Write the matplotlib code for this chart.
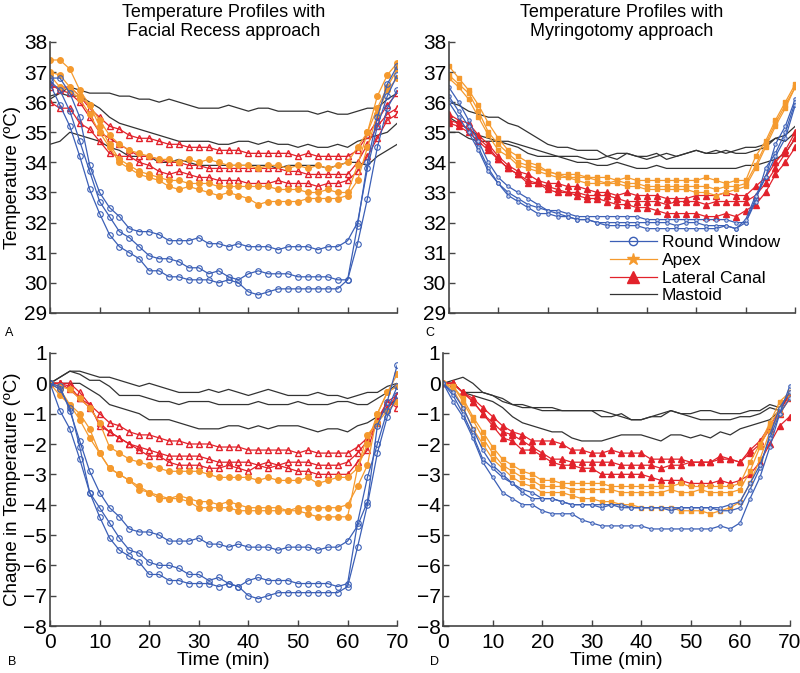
import matplotlib
matplotlib.use('Agg')
import matplotlib.pyplot as plt
from matplotlib.lines import Line2D

plt.rcParams['font.family'] = ['Liberation Sans', 'DejaVu Sans']

# time axis, every 2 min
t = list(range(0, 71, 2))

# ---- Facial recess, absolute temperature (panel A)
fr_temp_rw = [
    [36.8, 36.8, 36.3, 35.5, 33.9, 33.0, 32.5, 32.2, 31.8, 31.7, 31.7, 31.6,
     31.4, 31.4, 31.4, 31.5, 31.3, 31.3, 31.2, 31.3, 31.2, 31.2, 31.2, 31.1,
     31.2, 31.2, 31.2, 31.1, 31.2, 31.2, 31.4, 32.0, 33.8, 35.2, 36.2, 36.9],
    [36.7, 36.4, 35.7, 34.7, 33.7, 32.7, 32.2, 31.7, 31.5, 31.2, 30.9, 30.8,
     30.8, 30.7, 30.5, 30.5, 30.3, 30.4, 30.2, 30.1, 30.3, 30.4, 30.3, 30.3,
     30.3, 30.2, 30.2, 30.2, 30.2, 30.1, 30.1, 31.9, 34.0, 35.5, 36.6, 37.2],
    [36.6, 35.9, 35.2, 34.2, 33.1, 32.3, 31.6, 31.2, 31.0, 30.8, 30.4, 30.4,
     30.2, 30.2, 30.1, 30.1, 30.1, 30.0, 30.1, 30.0, 29.7, 29.6, 29.7, 29.8,
     29.8, 29.8, 29.8, 29.8, 29.8, 29.8, 30.1, 31.3, 32.8, 34.5, 35.8, 36.4],
]
fr_temp_apex = [
    [37.0, 36.9, 36.5, 36.2, 35.9, 35.4, 34.9, 34.6, 34.4, 34.3, 34.2, 34.1,
     34.1, 34.0, 34.1, 34.0, 34.1, 34.0, 33.9, 33.9, 33.9, 33.8, 33.9, 33.9,
     33.8, 33.9, 33.8, 33.9, 33.8, 33.9, 34.0, 34.5, 35.0, 35.8, 36.5, 37.1],
    [37.4, 37.4, 37.1, 36.4, 35.9, 35.2, 34.6, 34.1, 33.9, 33.7, 33.6, 33.5,
     33.4, 33.4, 33.3, 33.3, 33.3, 33.2, 33.2, 33.2, 33.2, 33.2, 33.2, 33.1,
     33.1, 33.1, 33.0, 33.0, 33.1, 33.0, 33.0, 33.9, 35.0, 36.2, 36.9, 37.3],
    [36.9, 36.5, 36.4, 36.1, 35.6, 35.0, 34.5, 34.0, 33.8, 33.6, 33.5, 33.4,
     33.2, 33.1, 33.2, 33.1, 33.0, 32.9, 33.0, 32.9, 32.8, 32.6, 32.7, 32.7,
     32.7, 32.7, 32.8, 32.8, 32.8, 32.8, 32.9, 33.4, 34.5, 35.6, 36.4, 36.8],
]
fr_temp_lc = [
    [36.5, 36.5, 36.5, 36.2, 35.8, 35.5, 35.2, 35.1, 34.9, 34.8, 34.8, 34.7,
     34.6, 34.6, 34.5, 34.5, 34.5, 34.4, 34.4, 34.4, 34.3, 34.3, 34.3, 34.3,
     34.3, 34.2, 34.3, 34.2, 34.2, 34.2, 34.2, 34.4, 34.9, 35.4, 35.9, 36.3],
    [36.6, 36.4, 36.3, 36.0, 35.5, 35.0, 34.8, 34.6, 34.4, 34.2, 34.2, 34.1,
     34.0, 34.0, 33.9, 33.9, 33.8, 33.8, 33.8, 33.8, 33.8, 33.8, 33.8, 33.8,
     33.7, 33.7, 33.6, 33.6, 33.6, 33.6, 33.6, 34.0, 34.6, 35.2, 35.6, 35.8],
    [36.0, 35.8, 35.8, 35.3, 35.1, 34.7, 34.3, 34.2, 34.2, 34.0, 33.9, 33.7,
     33.6, 33.7, 33.6, 33.5, 33.5, 33.4, 33.4, 33.4, 33.3, 33.3, 33.3, 33.4,
     33.3, 33.3, 33.3, 33.2, 33.3, 33.3, 33.4, 33.7, 34.2, 34.8, 35.4, 35.6],
]
fr_temp_mastoid = [
    [36.1, 36.3, 36.5, 36.4, 36.3, 36.3, 36.3, 36.2, 36.2, 36.1, 36.1, 36.0,
     36.1, 36.0, 35.9, 35.8, 35.8, 35.8, 35.9, 35.8, 35.7, 35.8, 35.8, 35.7,
     35.7, 35.7, 35.7, 35.6, 35.7, 35.6, 35.6, 35.7, 35.8, 35.8, 36.1, 36.3],
    [36.2, 36.3, 36.2, 36.2, 36.0, 35.8, 35.5, 35.3, 35.2, 35.1, 35.0, 34.9,
     34.8, 34.7, 34.7, 34.7, 34.7, 34.6, 34.6, 34.7, 34.7, 34.6, 34.7, 34.6,
     34.6, 34.5, 34.6, 34.5, 34.5, 34.6, 34.5, 34.7, 34.8, 34.9, 35.0, 35.3],
    [34.6, 34.7, 35.0, 34.9, 34.8, 34.7, 34.5, 34.4, 34.2, 34.2, 34.2, 34.0,
     34.0, 34.1, 34.0, 33.9, 33.9, 33.9, 33.9, 33.9, 33.9, 33.9, 33.9, 33.8,
     33.9, 33.9, 33.9, 33.9, 33.8, 33.9, 34.0, 34.0, 33.9, 34.2, 34.4, 34.6],
]

# ---- Facial recess, change in temperature (panel B)
fr_chg_rw = [
    [0.0, -0.1, -0.9, -1.9, -2.9, -3.6, -4.1, -4.4, -4.8, -4.9, -4.9, -5.0,
     -5.2, -5.2, -5.2, -5.1, -5.3, -5.3, -5.4, -5.3, -5.4, -5.4, -5.4, -5.5,
     -5.4, -5.4, -5.4, -5.5, -5.4, -5.4, -5.2, -4.7, -3.9, -1.4, -0.6, 0.6],
    [0.0, -0.9, -1.5, -2.5, -3.6, -4.1, -4.6, -5.1, -5.5, -5.6, -5.9, -6.0,
     -6.0, -6.1, -6.3, -6.3, -6.5, -6.4, -6.6, -6.7, -6.5, -6.4, -6.5, -6.5,
     -6.5, -6.6, -6.6, -6.6, -6.6, -6.7, -6.6, -4.6, -3.1, -2.0, -0.9, -0.1],
    [0.0, -0.2, -0.8, -2.1, -3.6, -4.4, -5.1, -5.5, -5.7, -5.9, -6.3, -6.3,
     -6.5, -6.5, -6.6, -6.6, -6.6, -6.7, -6.6, -6.7, -7.0, -7.1, -7.0, -6.9,
     -6.9, -6.9, -6.9, -6.9, -6.9, -6.9, -6.7, -5.4, -4.0, -2.3, -1.1, -0.4],
]
fr_chg_apex = [
    [0.0, -0.1, -0.2, -0.5, -0.8, -1.3, -2.1, -2.3, -2.5, -2.6, -2.7, -2.8,
     -2.9, -2.9, -2.9, -2.9, -3.0, -3.1, -3.1, -3.1, -3.1, -3.2, -3.1, -3.2,
     -3.2, -3.2, -3.1, -3.3, -3.2, -3.1, -3.1, -2.8, -2.0, -1.0, -0.3, 0.3],
    [0.0, -0.4, -0.7, -1.0, -1.5, -2.3, -2.8, -3.0, -3.2, -3.4, -3.6, -3.7,
     -3.8, -3.7, -3.8, -3.9, -3.9, -4.0, -3.9, -4.0, -4.1, -4.1, -4.1, -4.1,
     -4.2, -4.1, -4.1, -4.1, -4.1, -4.1, -4.0, -3.4, -2.7, -1.0, -0.3, -0.1],
    [0.0, -0.2, -0.7, -1.2, -1.8, -2.3, -2.8, -3.0, -3.2, -3.5, -3.6, -3.8,
     -3.8, -3.8, -3.9, -4.1, -4.1, -4.1, -4.1, -4.2, -4.2, -4.2, -4.2, -4.2,
     -4.2, -4.2, -4.3, -4.4, -4.4, -4.4, -4.4, -2.8, -1.7, -1.3, -0.9, -0.6],
]
fr_chg_lc = [
    [0.0, 0.0, 0.0, -0.3, -0.7, -1.0, -1.3, -1.4, -1.6, -1.7, -1.7, -1.8,
     -1.9, -1.9, -2.0, -2.0, -2.0, -2.1, -2.1, -2.1, -2.2, -2.2, -2.2, -2.2,
     -2.2, -2.3, -2.2, -2.3, -2.3, -2.3, -2.3, -2.1, -1.8, -1.2, -0.6, -0.4],
    [0.0, 0.0, -0.1, -0.5, -0.8, -1.3, -1.6, -1.8, -2.0, -2.1, -2.2, -2.3,
     -2.4, -2.4, -2.4, -2.4, -2.5, -2.6, -2.6, -2.6, -2.6, -2.7, -2.6, -2.7,
     -2.6, -2.6, -2.6, -2.7, -2.7, -2.7, -2.6, -2.3, -1.9, -1.3, -0.6, -0.8],
    [0.0, 0.0, -0.2, -0.5, -0.7, -1.4, -1.6, -1.8, -2.0, -2.2, -2.4, -2.4,
     -2.6, -2.7, -2.7, -2.7, -2.8, -2.8, -2.7, -2.8, -2.9, -2.7, -2.8, -2.7,
     -2.8, -2.9, -2.9, -3.0, -3.0, -3.0, -3.0, -2.6, -2.2, -1.2, -0.8, -0.4],
]
fr_chg_mastoid = [
    [0.0, 0.2, 0.4, 0.4, 0.3, 0.2, 0.2, 0.1, 0.0, -0.1, 0.0, -0.1,
     -0.2, -0.3, -0.3, -0.3, -0.2, -0.3, -0.2, -0.3, -0.4, -0.3, -0.2, -0.3,
     -0.4, -0.4, -0.4, -0.3, -0.4, -0.4, -0.5, -0.4, -0.3, -0.3, -0.1, 0.0],
    [0.0, 0.2, 0.4, 0.3, 0.1, 0.1, -0.1, -0.4, -0.4, -0.4, -0.5, -0.6,
     -0.6, -0.7, -0.6, -0.6, -0.6, -0.7, -0.7, -0.7, -0.7, -0.6, -0.7, -0.7,
     -0.7, -0.6, -0.7, -0.7, -0.7, -0.6, -0.6, -0.7, -0.7, -0.5, -0.3, 0.0],
    [0.0, 0.0, 0.0, 0.0, -0.2, -0.4, -0.7, -0.8, -0.9, -1.0, -1.2, -1.2,
     -1.2, -1.3, -1.4, -1.5, -1.5, -1.5, -1.4, -1.4, -1.5, -1.4, -1.5, -1.4,
     -1.4, -1.4, -1.5, -1.6, -1.5, -1.5, -1.6, -1.4, -1.3, -1.1, -0.8, -0.5],
]

# ---- Myringotomy, absolute temperature (panel C)
my_temp_rw = [
    [36.5, 36.0, 35.4, 34.7, 34.0, 33.5, 33.2, 33.0, 32.8, 32.6, 32.4, 32.4,
     32.3, 32.2, 32.2, 32.2, 32.2, 32.2, 32.2, 32.2, 32.1, 32.1, 32.1, 32.1,
     32.1, 32.1, 32.1, 32.1, 32.1, 32.0, 32.0, 32.8, 33.5, 34.6, 35.2, 36.1],
    [36.2, 35.7, 35.2, 34.5, 33.8, 33.3, 33.0, 32.8, 32.6, 32.5, 32.4, 32.3,
     32.2, 32.1, 32.1, 32.0, 32.0, 32.0, 32.0, 32.0, 32.0, 32.0, 32.0, 31.9,
     32.0, 32.0, 31.9, 31.9, 31.9, 31.8, 32.0, 32.7, 33.8, 34.3, 35.0, 36.0],
    [36.0, 35.5, 35.0, 34.4, 33.7, 33.3, 32.9, 32.7, 32.5, 32.3, 32.3, 32.2,
     32.2, 32.1, 32.1, 32.0, 31.9, 31.9, 31.9, 31.9, 31.8, 31.8, 31.8, 31.8,
     31.8, 31.8, 31.8, 31.8, 31.9, 31.8, 32.1, 32.9, 33.5, 34.2, 34.8, 35.9],
]
my_temp_apex = [
    [37.2, 36.8, 36.4, 35.9, 35.3, 34.8, 34.4, 34.2, 34.0, 33.9, 33.7, 33.6,
     33.6, 33.6, 33.5, 33.5, 33.5, 33.4, 33.5, 33.4, 33.4, 33.4, 33.4, 33.4,
     33.4, 33.4, 33.5, 33.4, 33.3, 33.4, 33.4, 34.2, 34.7, 35.4, 36.0, 36.6],
    [36.9, 36.6, 36.3, 35.7, 35.0, 34.6, 34.3, 34.0, 33.9, 33.8, 33.7, 33.6,
     33.5, 33.5, 33.5, 33.4, 33.3, 33.4, 33.3, 33.3, 33.2, 33.2, 33.2, 33.2,
     33.2, 33.2, 33.2, 33.1, 33.2, 33.2, 33.3, 33.9, 34.6, 35.3, 35.9, 36.5],
    [36.8, 36.5, 36.1, 35.5, 34.9, 34.4, 34.2, 33.9, 33.8, 33.7, 33.6, 33.5,
     33.5, 33.4, 33.3, 33.3, 33.3, 33.3, 33.2, 33.2, 33.1, 33.1, 33.1, 33.1,
     33.1, 33.0, 33.0, 32.9, 33.0, 33.1, 33.2, 33.8, 34.5, 35.2, 35.8, 36.5],
]
my_temp_lc = [
    [35.6, 35.4, 35.3, 34.9, 34.6, 34.2, 33.9, 33.7, 33.6, 33.4, 33.3, 33.3,
     33.2, 33.2, 33.1, 33.0, 33.0, 32.9, 33.0, 32.9, 32.9, 32.9, 32.8, 32.8,
     32.8, 32.9, 32.9, 32.9, 33.0, 32.9, 32.9, 33.2, 33.5, 34.0, 34.4, 35.0],
    [35.4, 35.3, 35.1, 34.8, 34.5, 34.1, 33.8, 33.6, 33.4, 33.3, 33.2, 33.1,
     33.0, 33.0, 32.9, 32.9, 32.9, 32.8, 32.7, 32.7, 32.7, 32.7, 32.6, 32.7,
     32.7, 32.7, 32.6, 32.7, 32.7, 32.7, 32.7, 32.9, 33.3, 33.8, 34.3, 34.8],
    [35.3, 35.2, 35.0, 34.7, 34.4, 34.1, 33.8, 33.6, 33.3, 33.3, 33.1, 33.0,
     33.0, 32.9, 32.8, 32.8, 32.7, 32.6, 32.6, 32.5, 32.5, 32.4, 32.3, 32.3,
     32.3, 32.3, 32.2, 32.2, 32.3, 32.2, 32.4, 32.6, 33.0, 33.6, 34.0, 34.5],
]
my_temp_mastoid = [
    [36.0, 35.9, 35.7, 35.6, 35.5, 35.5, 35.3, 35.2, 35.0, 34.8, 34.6, 34.5,
     34.5, 34.4, 34.4, 34.4, 34.2, 34.3, 34.3, 34.2, 34.2, 34.3, 34.1, 34.2,
     34.3, 34.4, 34.3, 34.4, 34.3, 34.4, 34.5, 34.5, 34.6, 34.8, 34.9, 35.2],
    [35.5, 35.3, 35.1, 34.9, 34.8, 34.7, 34.6, 34.5, 34.3, 34.2, 34.2, 34.2,
     34.1, 34.0, 34.0, 33.9, 33.9, 34.0, 33.9, 33.8, 33.8, 33.9, 33.8, 33.8,
     33.8, 33.8, 33.8, 33.8, 33.8, 33.8, 33.9, 33.9, 34.0, 34.1, 34.3, 34.8],
    [35.0, 35.0, 34.8, 34.7, 34.7, 34.7, 34.7, 34.6, 34.5, 34.4, 34.3, 34.2,
     34.2, 34.2, 34.1, 34.1, 34.2, 34.1, 34.3, 34.2, 34.1, 34.2, 34.3, 34.2,
     34.3, 34.4, 34.3, 34.3, 34.4, 34.3, 34.3, 34.4, 34.5, 34.8, 34.7, 35.0],
]

# ---- Myringotomy, change in temperature (panel D)
my_chg_rw = [
    [0.0, -0.6, -1.1, -1.8, -2.6, -3.1, -3.6, -3.8, -4.0, -4.0, -4.2, -4.3,
     -4.3, -4.3, -4.5, -4.6, -4.7, -4.7, -4.7, -4.7, -4.7, -4.8, -4.8, -4.8,
     -4.8, -4.8, -4.8, -4.8, -4.7, -4.8, -4.6, -3.8, -3.1, -2.1, -1.0, -0.5],
    [0.0, -0.4, -1.0, -1.7, -2.5, -2.8, -3.1, -3.3, -3.6, -3.8, -3.8, -3.8,
     -3.9, -4.0, -4.0, -4.0, -4.1, -4.0, -4.1, -4.1, -4.1, -4.1, -4.1, -4.2,
     -4.1, -4.1, -4.1, -4.1, -4.2, -4.2, -4.1, -3.5, -2.8, -1.7, -0.8, -0.3],
    [0.0, -0.3, -0.8, -1.5, -2.2, -2.7, -3.0, -3.3, -3.5, -3.6, -3.8, -3.8,
     -3.9, -4.0, -4.0, -4.0, -4.0, -4.0, -4.0, -4.1, -4.1, -4.1, -4.1, -4.1,
     -4.1, -4.1, -4.1, -4.1, -4.1, -4.0, -3.9, -3.3, -2.7, -1.8, -1.0, -0.1],
]
my_chg_apex = [
    [0.0, -0.1, -0.5, -1.1, -1.6, -2.1, -2.5, -2.7, -2.9, -3.0, -3.2, -3.2,
     -3.3, -3.3, -3.3, -3.3, -3.3, -3.4, -3.4, -3.4, -3.4, -3.4, -3.4, -3.4,
     -3.3, -3.4, -3.4, -3.4, -3.4, -3.4, -3.3, -2.6, -2.0, -1.3, -0.6, -0.3],
    [0.0, -0.1, -0.6, -1.2, -1.8, -2.3, -2.7, -2.9, -3.1, -3.2, -3.4, -3.4,
     -3.4, -3.5, -3.5, -3.5, -3.5, -3.5, -3.6, -3.6, -3.6, -3.6, -3.6, -3.5,
     -3.6, -3.6, -3.5, -3.6, -3.6, -3.6, -3.5, -2.9, -2.1, -1.4, -0.8, -0.3],
    [0.0, -0.2, -0.8, -1.5, -2.0, -2.5, -2.8, -3.1, -3.3, -3.4, -3.6, -3.6,
     -3.6, -3.7, -3.8, -3.8, -3.9, -3.9, -4.0, -4.0, -4.1, -4.1, -4.1, -4.1,
     -4.2, -4.2, -4.2, -4.3, -4.2, -4.1, -3.9, -3.3, -2.5, -1.6, -1.0, -0.5],
]
my_chg_lc = [
    [0.0, 0.0, -0.3, -0.5, -0.8, -1.1, -1.4, -1.6, -1.7, -1.9, -1.9, -1.9,
     -2.0, -2.2, -2.2, -2.3, -2.3, -2.2, -2.3, -2.3, -2.3, -2.5, -2.5, -2.5,
     -2.5, -2.6, -2.6, -2.6, -2.4, -2.5, -2.6, -2.3, -2.0, -1.5, -1.0, -0.5],
    [0.0, 0.0, -0.3, -0.6, -1.0, -1.3, -1.6, -1.7, -1.9, -2.1, -2.3, -2.5,
     -2.5, -2.6, -2.6, -2.6, -2.6, -2.6, -2.7, -2.7, -2.7, -2.7, -2.8, -2.7,
     -2.7, -2.6, -2.6, -2.6, -2.5, -2.5, -2.6, -2.2, -1.9, -1.4, -0.9, -0.4],
    [0.0, 0.0, -0.3, -0.6, -1.0, -1.4, -1.8, -1.9, -2.2, -2.2, -2.4, -2.6,
     -2.7, -2.7, -2.8, -2.8, -3.0, -3.0, -3.0, -3.0, -3.0, -3.1, -3.2, -3.2,
     -3.2, -3.3, -3.3, -3.3, -3.2, -3.3, -3.2, -3.0, -2.6, -2.0, -1.4, -1.1],
]
my_chg_mastoid = [
    [0.0, 0.1, 0.2, 0.0, -0.3, -0.4, -0.5, -0.7, -0.8, -0.8, -0.9, -0.9,
     -0.9, -0.9, -0.9, -0.9, -1.1, -1.1, -1.0, -1.2, -1.2, -1.1, -1.1, -0.9,
     -1.0, -1.1, -1.2, -1.2, -1.2, -1.2, -1.1, -1.1, -1.0, -0.8, -0.9, -0.3],
    [0.0, 0.0, -0.3, -0.3, -0.3, -0.4, -0.6, -0.7, -0.7, -0.8, -0.8, -0.8,
     -0.9, -0.9, -0.9, -0.9, -0.9, -1.0, -1.1, -1.2, -1.2, -1.1, -1.0, -0.9,
     -1.0, -1.0, -0.9, -0.9, -1.0, -1.0, -1.0, -0.9, -0.9, -0.7, -0.8, -0.3],
    [0.0, 0.0, -0.3, -0.4, -0.5, -0.6, -0.8, -1.1, -1.3, -1.4, -1.5, -1.6,
     -1.6, -1.8, -1.9, -1.9, -1.9, -1.8, -1.7, -1.7, -1.7, -1.8, -1.9, -1.7,
     -1.7, -1.8, -1.7, -1.8, -1.6, -1.7, -1.5, -1.4, -1.3, -1.2, -0.9, -0.3],
]

BLUE = '#3b5fb6'
ORANGE = '#f59a2e'
RED = '#e2222b'
BLACK = '#333333'
AXC = '#444444'

# marker styles: facial recess panels (big) and myringotomy panels (small)
style_fr = {
    'rw': dict(color=BLUE, marker='o', ms=4, mfc='none', mec=BLUE, mew=0.8),
    'apex': dict(color=ORANGE, marker='o', ms=4, mfc=ORANGE, mec=ORANGE),
    'lc': dict(color=RED, marker='^', ms=5, mfc='none', mec=RED, mew=1.0),
    'mastoid': dict(color=BLACK, marker=None),
}
style_my = {
    'rw': dict(color=BLUE, marker='o', ms=2.5, mfc='#c8d2ec', mec=BLUE, mew=0.7),
    'apex': dict(color=ORANGE, marker='s', ms=2.3, mfc=ORANGE, mec=ORANGE),
    'lc': dict(color=RED, marker='^', ms=4, mfc=RED, mec=RED),
    'mastoid': dict(color=BLACK, marker=None),
}

fig = plt.figure(figsize=(8, 6.73), dpi=100)
axA = fig.add_axes([0.0625, 0.535, 0.434, 0.4027])
axC = fig.add_axes([0.561, 0.535, 0.433, 0.4027])
axB = fig.add_axes([0.0625, 0.0698, 0.434, 0.4057])
axD = fig.add_axes([0.554, 0.0698, 0.433, 0.4057])


def draw(ax, groups, styles):
    for key in ['mastoid', 'lc', 'apex', 'rw']:
        for y in groups[key]:
            ax.plot(t, y, lw=0.9, **styles[key])


draw(axA, {'rw': fr_temp_rw, 'apex': fr_temp_apex, 'lc': fr_temp_lc,
           'mastoid': fr_temp_mastoid}, style_fr)
draw(axB, {'rw': fr_chg_rw, 'apex': fr_chg_apex, 'lc': fr_chg_lc,
           'mastoid': fr_chg_mastoid}, style_fr)
draw(axC, {'rw': my_temp_rw, 'apex': my_temp_apex, 'lc': my_temp_lc,
           'mastoid': my_temp_mastoid}, style_my)
draw(axD, {'rw': my_chg_rw, 'apex': my_chg_apex, 'lc': my_chg_lc,
           'mastoid': my_chg_mastoid}, style_my)

for ax in [axA, axB, axC, axD]:
    ax.set_xlim(0, 70)
    ax.set_xticks(range(0, 71, 10))
    for s in ['top', 'right']:
        ax.spines[s].set_visible(False)
    for s in ['left', 'bottom']:
        ax.spines[s].set_color(AXC)
        ax.spines[s].set_linewidth(1.2)
    ax.tick_params(direction='in', length=4, width=1, color=AXC,
                   labelsize=15, pad=2)
    ax.tick_params(axis='x', pad=5)

for ax in [axA, axC]:
    ax.set_ylim(29, 38)
    ax.set_yticks(range(29, 39))
    ax.tick_params(axis='x', labelbottom=False)
for ax in [axB, axD]:
    ax.set_ylim(-8, 1)
    ax.set_yticks(range(-8, 2))
    ax.set_xlabel('Time (min)', fontsize=14, labelpad=0)

axA.set_ylabel('Temperature (ºC)', fontsize=13.5, labelpad=2)
axB.set_ylabel('Chagne in Temperature (ºC)', fontsize=13.5, labelpad=2)

axA.set_title('Temperature Profiles with\nFacial Recess approach',
              fontsize=13, pad=4, linespacing=1.15)
axC.set_title('Temperature Profiles with\nMyringotomy approach',
              fontsize=13, pad=4, linespacing=1.15)

fig.text(5 / 800, 1 - 333 / 673, 'A', fontsize=9, va='center')
fig.text(425 / 800, 1 - 333 / 673, 'C', fontsize=9, va='center')
fig.text(8 / 800, 1 - 662 / 673, 'B', fontsize=9, va='center')
fig.text(430 / 800, 1 - 662 / 673, 'D', fontsize=9, va='center')

handles = [
    Line2D([], [], color=BLUE, marker='o', ms=6, mfc='none', mec=BLUE, lw=0.9),
    Line2D([], [], color=ORANGE, marker='*', ms=9, mfc=ORANGE, mec=ORANGE, lw=0.9),
    Line2D([], [], color=RED, marker='^', ms=8, mfc=RED, mec=RED, lw=0.9),
    Line2D([], [], color=BLACK, lw=0.9),
]
labels = ['Round Window', 'Apex', 'Lateral Canal', 'Mastoid']
fig.legend(handles, labels, loc='upper left',
           bbox_to_anchor=(610 / 800, 1 - 235 / 673),
           frameon=False, fontsize=12.5, handlelength=2.7,
           handletextpad=0.3, labelspacing=0.15, borderpad=0,
           borderaxespad=0)

fig.savefig('out.png', dpi=100)
